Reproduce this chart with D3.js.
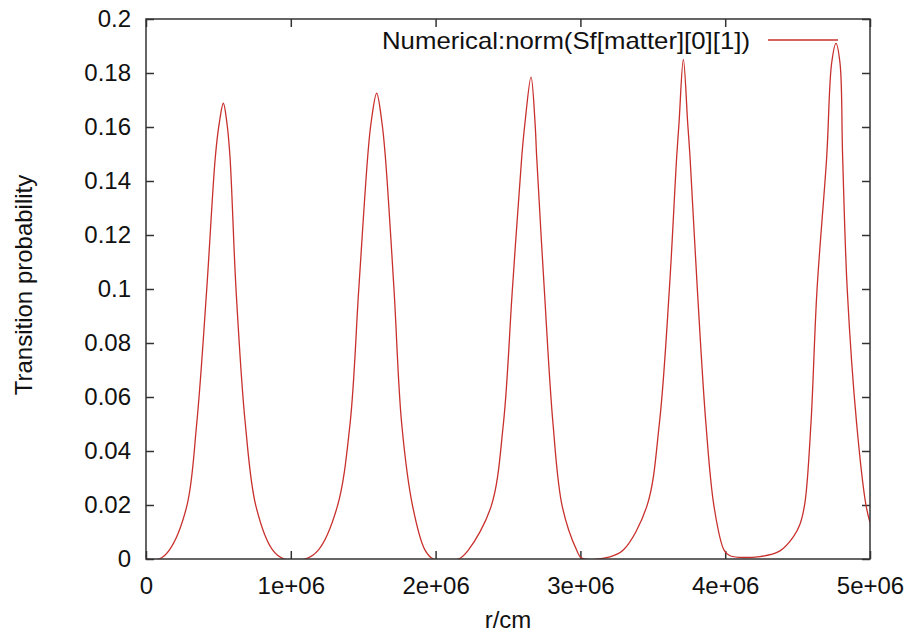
<!DOCTYPE html>
<html>
<head>
<meta charset="utf-8">
<script src="https://cdn.jsdelivr.net/npm/d3@7"></script>
<style>
  body { margin: 0; background: #fff; }
  text { font-family: "Liberation Sans", Arial, sans-serif; fill: #111; }
</style>
</head>
<body>
<svg id="chart" width="916" height="637"></svg>
<script>
// r in cm
let rCm = [
  0, 0.090e6, 0.161e6, 0.281e6, 0.350e6, 0.419e6, 0.479e6, 0.506e6, 0.534e6, 0.559e6,
  0.580e6, 0.622e6, 0.686e6, 0.760e6, 0.875e6, 0.955e6,
  1.098e6, 1.190e6, 1.321e6, 1.409e6, 1.469e6, 1.531e6, 1.554e6, 1.593e6, 1.630e6,
  1.653e6, 1.713e6, 1.766e6, 1.842e6, 1.927e6, 1.985e6,
  2.157e6, 2.226e6, 2.383e6, 2.468e6, 2.530e6, 2.595e6, 2.617e6, 2.659e6, 2.687e6,
  2.698e6, 2.751e6, 2.811e6, 2.875e6, 2.974e6, 3.009e6,
  3.204e6, 3.296e6, 3.458e6, 3.545e6, 3.614e6, 3.665e6, 3.681e6, 3.711e6, 3.741e6,
  3.757e6, 3.808e6, 3.867e6, 3.923e6, 3.992e6, 4.033e6,
  4.240e6, 4.378e6, 4.468e6, 4.517e6, 4.551e6, 4.592e6, 4.634e6, 4.701e6, 4.735e6,
  4.765e6, 4.793e6, 4.811e6, 4.843e6, 4.908e6, 4.972e6, 5.0e6
];

// transition probability at each r
let prob = [
  0, 0, 0.0033, 0.0194, 0.050, 0.0996, 0.149, 0.1614, 0.1688, 0.1614,
  0.149, 0.0996, 0.050, 0.0194, 0.0033, 0,
  0, 0.0033, 0.0194, 0.050, 0.0996, 0.149, 0.1614, 0.1725, 0.1614,
  0.149, 0.0996, 0.050, 0.0194, 0.0033, 0,
  0, 0.0033, 0.0194, 0.050, 0.0996, 0.149, 0.1614, 0.1785, 0.1614,
  0.149, 0.0996, 0.050, 0.0194, 0.0033, 0.0003,
  0.0008, 0.0033, 0.0194, 0.050, 0.0996, 0.149, 0.1614, 0.185, 0.1614,
  0.149, 0.0996, 0.050, 0.0194, 0.0033, 0.0012,
  0.0009, 0.003, 0.008, 0.013, 0.021, 0.050, 0.0996, 0.149, 0.1836,
  0.191, 0.1836, 0.149, 0.0996, 0.050, 0.020, 0.0135
];

let xTicks = [0, 1e6, 2e6, 3e6, 4e6, 5e6];
let xTickLabels = ["0", "1e+06", "2e+06", "3e+06", "4e+06", "5e+06"];
let yTicks = [0, 0.02, 0.04, 0.06, 0.08, 0.1, 0.12, 0.14, 0.16, 0.18, 0.2];
let yTickLabels = ["0", "0.02", "0.04", "0.06", "0.08", "0.1", "0.12", "0.14", "0.16", "0.18", "0.2"];

let seriesName = "Numerical:norm(Sf[matter][0][1])";

let margin = {left: 146, top: 19, right: 46, bottom: 78};
let width = 916 - margin.left - margin.right;
let height = 637 - margin.top - margin.bottom;

let svg = d3.select("#chart");
let g = svg.append("g").attr("transform", `translate(${margin.left},${margin.top})`);

let x = d3.scaleLinear().domain([0, 5e6]).range([0, width]);
let y = d3.scaleLinear().domain([0, 0.2]).range([height, 0]);

let frameColor = "#333";
let curveColor = "#c8302c";

svg.append("defs").append("clipPath")
  .attr("id", "plotClip")
  .append("rect")
  .attr("width", width)
  .attr("height", height);

// axes with labels
let xAxis = g.append("g")
  .attr("transform", `translate(0,${height})`)
  .call(d3.axisBottom(x).tickValues(xTicks).tickSize(-8).tickPadding(18)
    .tickFormat((d, i) => xTickLabels[i]));

let yAxis = g.append("g")
  .call(d3.axisLeft(y).tickValues(yTicks).tickSize(-8).tickPadding(15)
    .tickFormat((d, i) => yTickLabels[i]));

// mirrored ticks on top and right
let xTop = g.append("g")
  .call(d3.axisTop(x).tickValues(xTicks).tickSize(-8).tickFormat(""));
let yRight = g.append("g")
  .attr("transform", `translate(${width},0)`)
  .call(d3.axisRight(y).tickValues(yTicks).tickSize(-8).tickFormat(""));

[xAxis, yAxis, xTop, yRight].forEach(a => {
  a.select(".domain").remove();
  a.selectAll(".tick line").attr("stroke", frameColor).attr("stroke-width", 1.5);
  a.selectAll(".tick text")
    .attr("font-size", 24)
    .attr("font-family", "Liberation Sans, Arial, sans-serif")
    .attr("fill", "#111");
});

let line = d3.line()
  .x((d, i) => x(rCm[i]))
  .y((d, i) => y(prob[i]))
  .curve(d3.curveCatmullRom.alpha(0.5));

g.append("path")
  .datum(prob)
  .attr("d", line)
  .attr("clip-path", "url(#plotClip)")
  .attr("fill", "none")
  .attr("stroke", curveColor)
  .attr("stroke-width", 1.3);

g.append("rect")
  .attr("x", 0)
  .attr("y", 0)
  .attr("width", width)
  .attr("height", height)
  .attr("fill", "none")
  .attr("stroke", frameColor)
  .attr("stroke-width", 1.5);

// legend
g.append("text")
  .attr("x", 750 - margin.left)
  .attr("y", 49 - margin.top)
  .attr("text-anchor", "end")
  .attr("font-size", 24)
  .attr("textLength", 368)
  .attr("lengthAdjust", "spacingAndGlyphs")
  .text(seriesName);

g.append("line")
  .attr("x1", 768 - margin.left)
  .attr("x2", 838 - margin.left)
  .attr("y1", 40 - margin.top)
  .attr("y2", 40 - margin.top)
  .attr("stroke", curveColor)
  .attr("stroke-width", 1.3);

// axis titles
svg.append("text")
  .attr("x", margin.left + width / 2)
  .attr("y", 628)
  .attr("text-anchor", "middle")
  .attr("font-size", 24)
  .text("r/cm");

svg.append("text")
  .attr("transform", "translate(32,285) rotate(-90)")
  .attr("text-anchor", "middle")
  .attr("font-size", 24)
  .text("Transition probability");
</script>
</body>
</html>
